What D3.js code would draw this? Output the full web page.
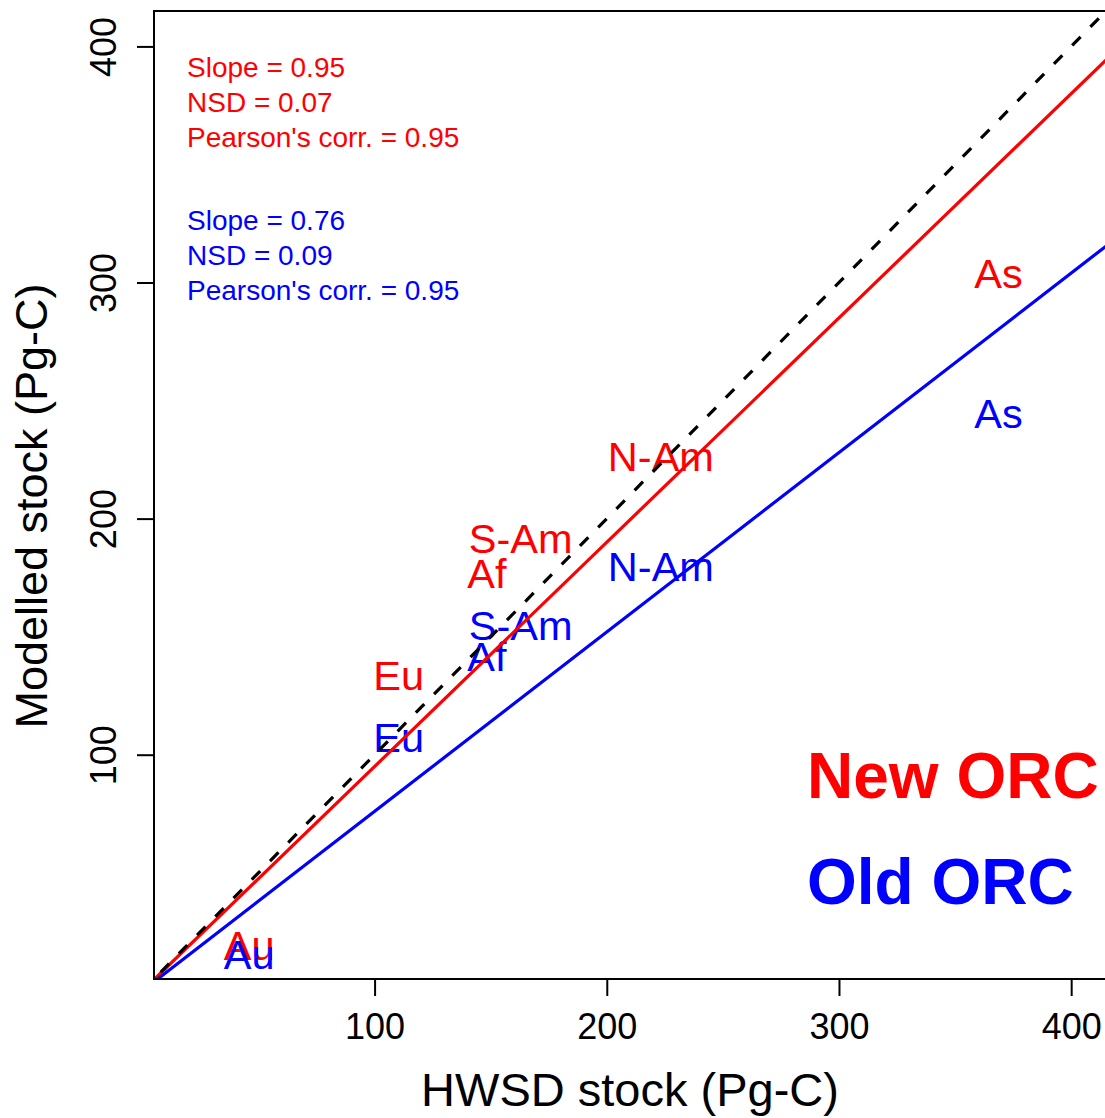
<!DOCTYPE html>
<html>
<head>
<meta charset="utf-8">
<script src="https://cdn.jsdelivr.net/npm/d3@7"></script>
<style>
  body { margin: 0; background: #fff; }
  svg { display: block; font-family: "Liberation Sans", Arial, Helvetica, sans-serif; }
</style>
</head>
<body>
<div id="chart"></div>
<script>
// region labels, placed at (HWSD stock, modelled stock)
var regions = ["As", "N-Am", "S-Am", "Af", "Eu", "Au"];
var hwsd    = [368.7, 223.3, 162.9, 148.4, 110.4, 46.0];
var newOrc  = [303.6, 225.8, 191.3, 176.3, 133.3, 18.7];
var oldOrc  = [244.0, 179.3, 154.4, 141.1, 106.9, 15.2];

// regression slopes through origin
var slopeNew = 0.95;
var slopeOld = 0.76;

var statsNew = ["Slope = 0.95", "NSD = 0.07", "Pearson's corr. = 0.95"];
var statsOld = ["Slope = 0.76", "NSD = 0.09", "Pearson's corr. = 0.95"];

var xTicks = [100, 200, 300, 400];
var yTicks = [100, 200, 300, 400];

var w = 1105, h = 1118;
var pLeft = 154, pRight = 1106, pTop = 11, pBottom = 979;

var svg = d3.select("#chart").append("svg")
  .attr("width", w)
  .attr("height", h);

var x = d3.scaleLinear().domain([5, 415]).range([pLeft, pRight]);
var y = d3.scaleLinear().domain([5, 415]).range([pBottom, pTop]);

svg.append("clipPath").attr("id", "plotclip")
  .append("rect")
  .attr("x", pLeft).attr("y", pTop)
  .attr("width", pRight - pLeft).attr("height", pBottom - pTop);

// stats text
var statY = [77, 112, 147];
svg.append("g").selectAll("text")
  .data(statsNew).join("text")
  .attr("x", 187)
  .attr("y", (d, i) => statY[i])
  .attr("font-size", 28)
  .attr("fill", "red")
  .text(d => d);
svg.append("g").selectAll("text")
  .data(statsOld).join("text")
  .attr("x", 187)
  .attr("y", (d, i) => statY[i] + 153)
  .attr("font-size", 28)
  .attr("fill", "blue")
  .text(d => d);

// region labels
var lab = svg.append("g").attr("text-anchor", "middle").attr("font-size", 41.5);
lab.selectAll("text.new")
  .data(regions).join("text")
  .attr("class", "new")
  .attr("x", (d, i) => x(hwsd[i]))
  .attr("y", (d, i) => y(newOrc[i]))
  .attr("dy", "0.33em")
  .attr("fill", "red")
  .text(d => d);
lab.selectAll("text.old")
  .data(regions).join("text")
  .attr("class", "old")
  .attr("x", (d, i) => x(hwsd[i]))
  .attr("y", (d, i) => y(oldOrc[i]))
  .attr("dy", "0.33em")
  .attr("fill", "blue")
  .text(d => d);

// lines
var lines = svg.append("g").attr("clip-path", "url(#plotclip)");
function abline(slope, color, dash) {
  lines.append("line")
    .attr("x1", x(0)).attr("y1", y(0))
    .attr("x2", x(500)).attr("y2", y(500 * slope))
    .attr("stroke", color)
    .attr("stroke-width", 3.2)
    .attr("stroke-dasharray", dash);
}
abline(slopeNew, "red", null);
abline(1, "black", "12,14");
abline(slopeOld, "blue", null);

// legend text
svg.append("text").attr("x", 807).attr("y", 798)
  .attr("font-size", 64).attr("font-weight", "bold").attr("fill", "red")
  .text("New ORC");
svg.append("text").attr("x", 807).attr("y", 904)
  .attr("font-size", 64).attr("font-weight", "bold").attr("fill", "blue")
  .text("Old ORC");

// axes
var xAxis = svg.append("g")
  .attr("transform", "translate(0," + pBottom + ")")
  .call(d3.axisBottom(x).tickValues(xTicks).tickSize(17).tickSizeOuter(0));
xAxis.select(".domain").remove();
xAxis.selectAll("line").attr("stroke", "black").attr("stroke-width", 2);
xAxis.selectAll("text")
  .attr("y", 60).attr("dy", 0)
  .attr("font-size", 36)
  .attr("fill", "black");

var yAxis = svg.append("g")
  .attr("transform", "translate(" + pLeft + ",0)")
  .call(d3.axisLeft(y).tickValues(yTicks).tickSize(17).tickSizeOuter(0));
yAxis.select(".domain").remove();
yAxis.selectAll("line").attr("stroke", "black").attr("stroke-width", 2);
yAxis.selectAll("text")
  .attr("transform", "rotate(-90)")
  .attr("x", 0).attr("y", -38).attr("dy", 0)
  .attr("text-anchor", "middle")
  .attr("font-size", 36)
  .attr("fill", "black");
xAxis.attr("font-family", null).attr("font-size", null);
yAxis.attr("font-family", null).attr("font-size", null);

// frame
svg.append("rect")
  .attr("x", pLeft).attr("y", pTop)
  .attr("width", pRight - pLeft).attr("height", pBottom - pTop)
  .attr("fill", "none")
  .attr("stroke", "black")
  .attr("stroke-width", 2);

// axis titles
svg.append("text")
  .attr("x", (pLeft + pRight) / 2).attr("y", 1106)
  .attr("text-anchor", "middle")
  .attr("font-size", 47)
  .text("HWSD stock (Pg-C)");
svg.append("text")
  .attr("transform", "translate(47,506) rotate(-90)")
  .attr("text-anchor", "middle")
  .attr("font-size", 45)
  .text("Modelled stock (Pg-C)");
</script>
</body>
</html>
